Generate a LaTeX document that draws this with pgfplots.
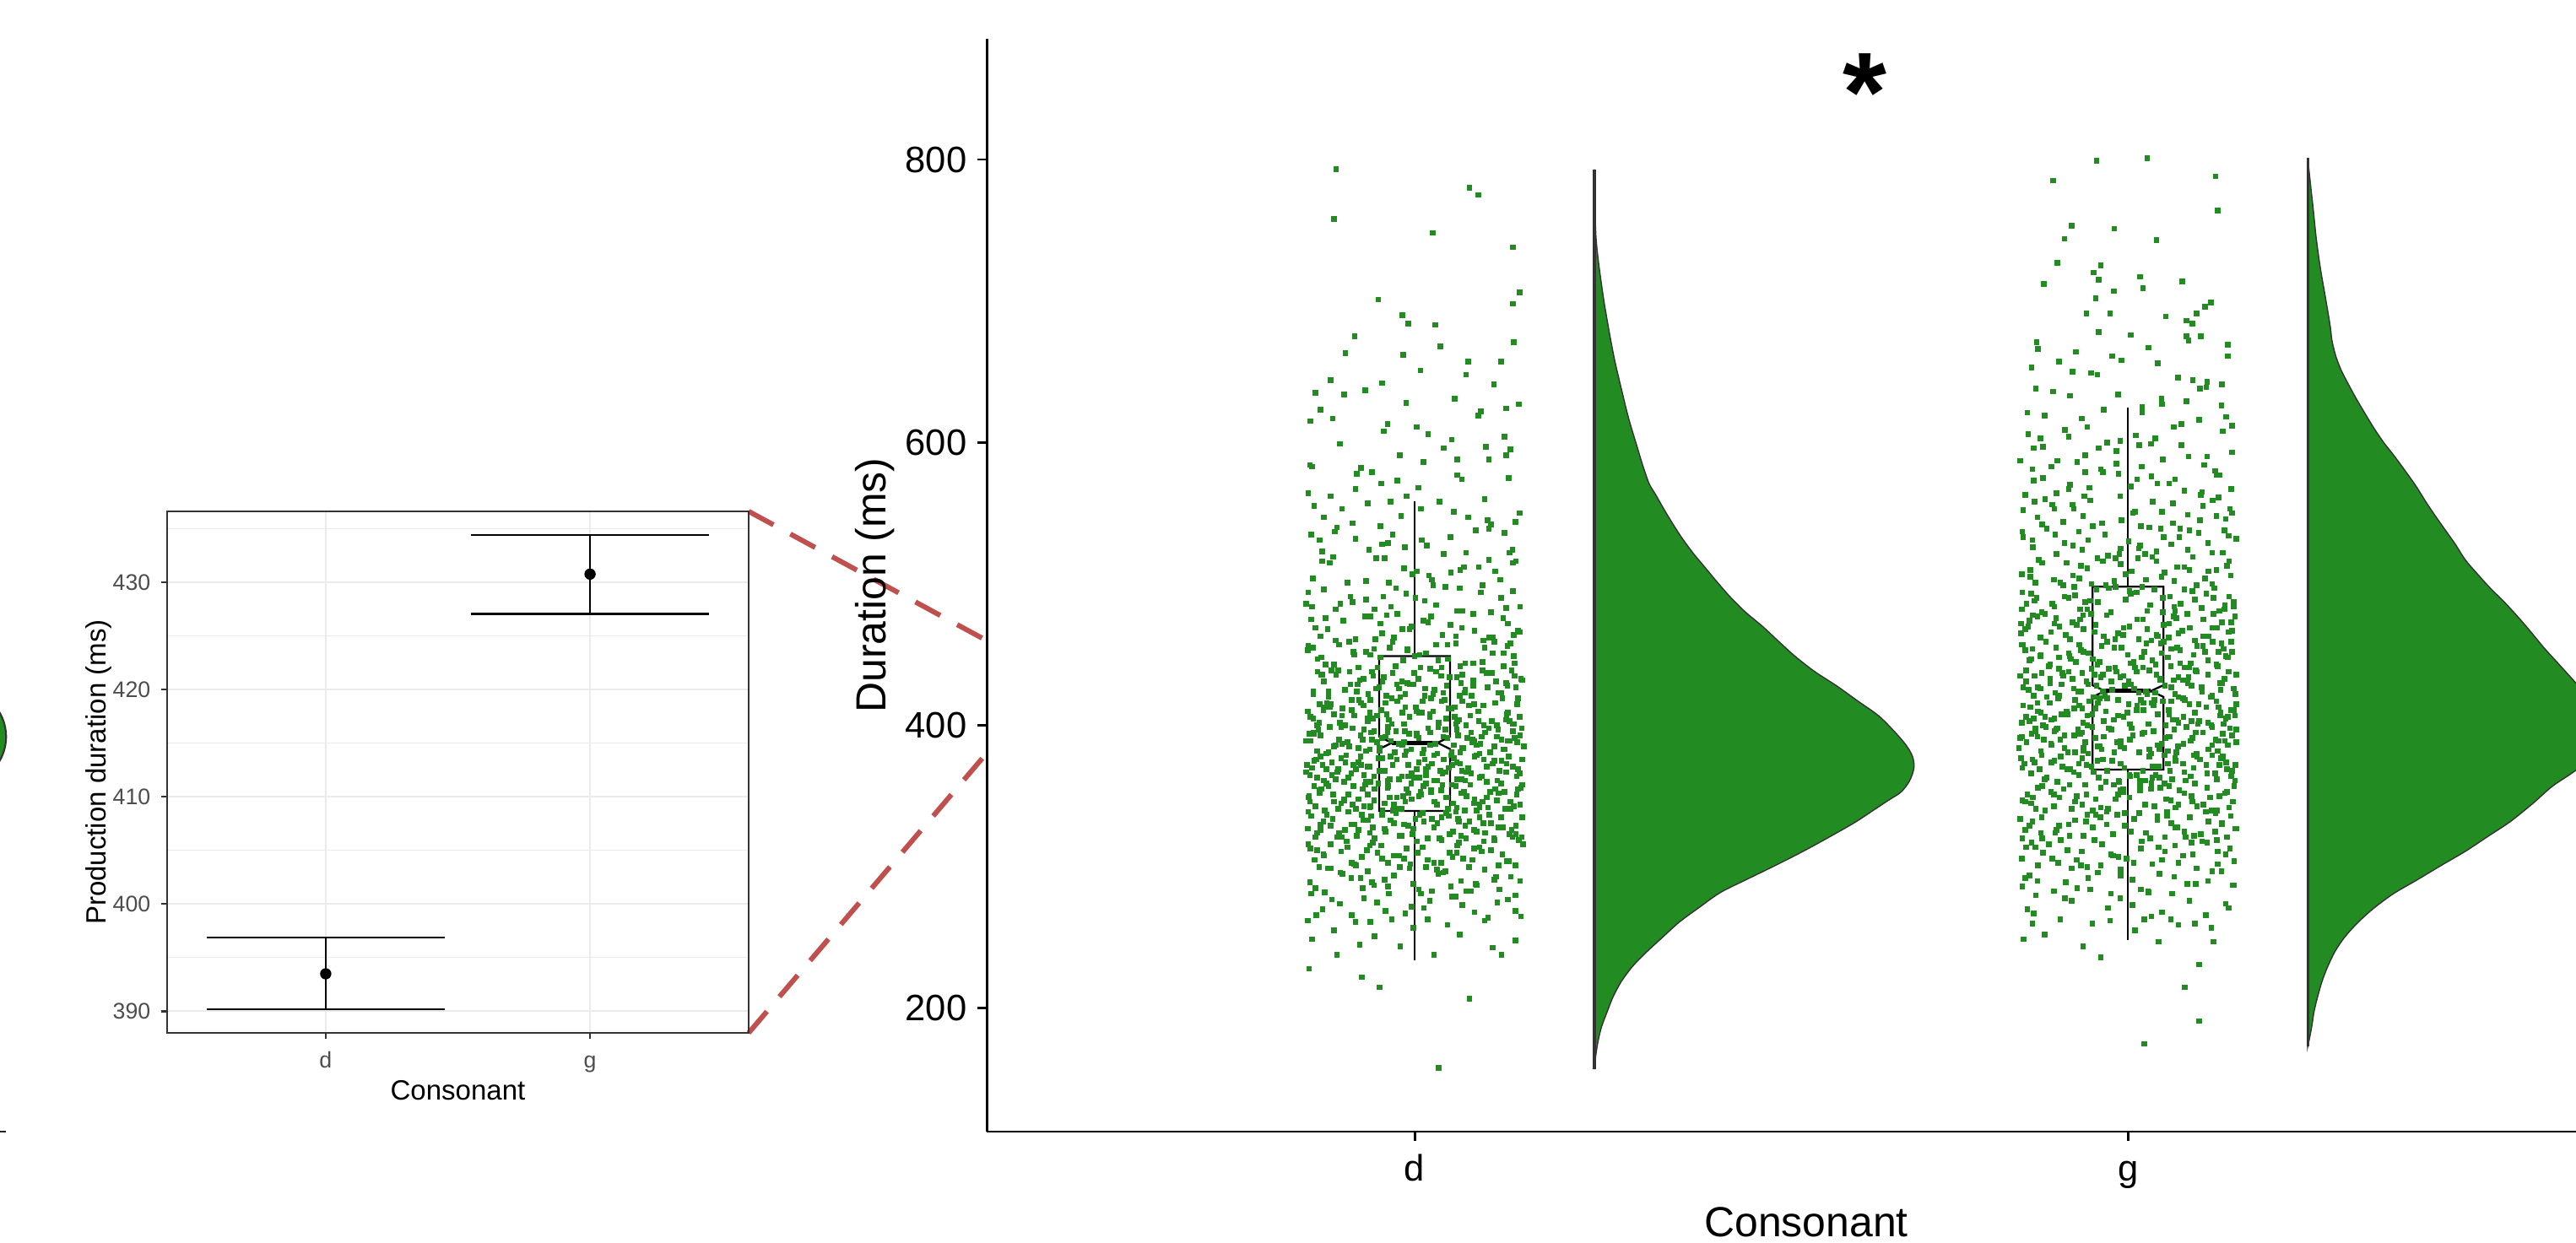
\documentclass[border=0pt]{standalone}
\usepackage{pgfplots}
\pgfplotsset{compat=1.18}
\usepackage{pgfplotstable}
\usepackage{fontspec}
\setmainfont{Liberation Sans}
\definecolor{fg}{HTML}{228B22}
\definecolor{dashred}{HTML}{C0504D}
\definecolor{gridgray}{HTML}{EBEBEB}
\definecolor{g30}{HTML}{4D4D4D}
\definecolor{g20}{HTML}{333333}

\pgfplotstableread{
x y
0.852 228
0.926 222
0.951 215
1.077 207
1.034 158
1.122 238
0.891 238
1.027 238
1.141 248
0.856 249
0.980 244
0.923 245
1.063 252
0.998 257
1.109 243
0.887 255
1.046 259
0.944 251
0.850 262
1.013 271
0.912 266
1.131 277
0.968 263
1.084 268
0.895 274
1.052 279
0.938 261
1.149 265
0.871 270
1.021 276
0.987 267
1.098 262
0.929 278
1.067 273
0.959 269
1.116 275
1.119 284
0.958 291
1.043 297
0.874 282
1.086 288
0.993 299
0.927 285
1.135 293
1.009 281
0.896 296
1.065 290
0.943 287
1.098 298
0.853 289
1.024 283
0.971 294
1.051 286
0.911 292
1.141 280
0.882 299
1.079 283
0.998 288
0.934 297
1.112 291
0.861 285
1.033 295
0.964 281
0.854 313
0.985 306
1.097 318
0.918 301
1.049 310
0.941 317
1.132 304
0.873 308
1.011 314
1.076 300
0.897 311
1.152 316
0.963 303
1.038 319
0.926 307
1.107 312
0.979 300
1.060 315
0.860 305
1.123 309
0.905 318
0.994 302
1.083 313
0.948 310
1.018 305
1.141 301
0.882 316
1.053 307
0.933 312
1.112 319
0.971 308
1.027 303
0.866 300
1.091 314
0.953 315
1.004 310
1.068 306
0.912 303
1.151 335
1.027 328
0.898 321
1.077 332
0.954 337
0.863 324
1.111 320
0.985 330
1.044 338
0.921 326
1.133 323
1.001 334
0.882 329
1.065 322
0.939 336
1.096 331
0.850 327
1.018 320
0.966 333
1.054 325
0.907 339
1.124 328
0.979 322
1.038 335
0.872 332
1.083 326
0.944 320
1.007 337
0.915 330
1.142 323
0.991 329
1.061 334
0.891 321
1.105 337
0.959 325
1.032 331
0.855 336
1.072 320
0.928 333
1.118 328
0.974 338
1.049 323
0.902 326
1.013 332
0.937 324
1.091 335
0.868 330
1.137 321
0.998 327
1.058 339
0.919 322
0.885 334
0.853 346
0.977 341
1.106 353
0.931 358
1.044 349
1.139 343
0.886 351
1.012 357
0.958 345
1.087 340
0.869 355
0.996 348
1.121 359
0.937 342
1.065 352
0.901 347
1.149 356
0.984 350
1.031 344
0.949 359
1.095 346
0.874 340
1.023 354
0.965 349
1.127 341
0.914 357
1.054 345
0.991 352
1.078 358
0.861 343
1.006 350
0.943 347
1.113 355
0.893 341
1.039 358
0.971 344
1.143 351
0.921 348
1.069 353
0.879 357
1.028 346
0.955 340
1.101 349
0.989 355
1.059 342
0.907 351
1.134 346
0.866 354
1.016 359
0.938 343
1.084 348
1.118 352
0.927 355
1.047 341
0.963 357
0.897 345
1.091 344
0.851 349
1.008 353
1.151 358
0.982 341
1.073 350
1.143 364
1.019 371
0.897 377
1.066 362
0.951 368
0.859 375
1.116 361
0.986 379
1.039 366
0.914 372
1.132 378
1.007 363
0.876 369
1.059 374
0.938 360
1.097 376
0.853 365
1.024 373
0.965 362
1.048 370
0.904 379
1.128 367
0.975 376
1.032 361
0.871 372
1.084 378
0.943 364
1.003 369
0.921 374
1.138 371
0.996 366
1.055 377
0.889 362
1.109 373
0.958 368
1.027 379
0.863 363
1.075 370
0.929 365
1.122 375
0.969 372
1.043 367
0.901 360
1.014 376
0.934 371
1.091 363
0.868 378
1.145 369
0.982 364
1.064 373
0.911 366
0.884 374
1.071 361
0.949 377
1.036 368
1.101 371
0.907 363
1.151 376
0.991 372
0.848 367
1.016 365
0.924 378
1.079 366
0.962 361
1.053 372
0.893 369
0.859 394
0.978 387
1.104 398
0.932 382
1.046 391
1.138 396
0.887 385
1.011 380
0.959 392
1.083 389
0.865 397
0.995 383
1.122 390
0.939 395
1.064 381
0.906 388
1.148 393
0.983 386
1.033 399
0.951 384
1.094 392
0.876 380
1.022 395
0.967 389
1.126 383
0.913 398
1.055 386
0.992 394
1.081 388
0.863 382
1.006 391
0.943 396
1.112 385
0.894 390
1.043 397
0.972 381
1.144 388
0.924 393
1.068 384
0.881 399
1.029 387
0.954 391
1.099 395
0.988 382
1.061 393
0.908 385
1.131 389
0.852 394
1.019 398
0.937 383
1.087 386
1.117 397
0.927 390
1.052 381
0.962 395
0.898 387
1.091 380
0.848 389
1.003 393
1.153 385
0.986 396
1.074 391
1.144 415
1.021 408
0.895 402
1.067 417
0.953 411
0.858 405
1.115 400
0.987 413
1.042 418
0.915 407
1.133 403
1.003 410
0.877 416
1.058 401
0.937 409
1.096 414
0.854 406
1.023 419
0.964 404
1.052 412
0.903 400
1.129 408
0.976 417
1.034 402
0.872 411
1.083 415
0.942 405
1.006 409
0.922 418
1.139 401
0.993 406
1.056 413
0.887 408
1.108 403
0.959 416
1.026 410
0.863 400
1.078 407
0.928 414
1.123 419
0.968 401
1.044 405
0.899 412
1.011 417
0.934 403
1.089 410
0.867 415
1.147 406
0.983 409
1.062 404
0.912 418
0.881 413
1.072 400
0.947 407
0.858 424
0.982 431
1.108 437
0.935 422
1.045 428
1.140 435
0.883 439
1.015 426
0.960 421
1.082 432
0.869 436
0.998 429
1.121 423
0.940 438
1.065 430
0.902 425
1.149 433
0.980 420
1.037 435
0.950 427
1.095 439
0.873 431
1.026 422
0.969 437
1.130 428
0.919 424
1.059 434
0.990 430
1.080 421
0.864 438
1.005 433
0.946 426
1.114 431
0.890 436
1.040 423
0.975 429
1.136 439
0.923 432
1.071 425
0.879 420
1.030 438
0.957 434
1.102 427
0.987 422
1.067 436
0.910 429
1.140 444
1.016 451
0.894 457
1.064 442
0.952 448
0.857 455
1.112 459
0.984 446
1.038 441
0.914 452
1.130 456
1.000 449
0.875 443
1.058 458
0.938 450
1.095 445
0.850 453
1.022 440
0.965 455
1.047 447
0.908 459
1.125 451
0.973 442
1.030 457
0.869 448
1.082 444
0.943 454
1.007 450
0.921 441
1.134 458
0.990 453
0.855 475
0.983 468
1.109 462
0.930 477
1.050 471
1.139 464
0.889 460
1.019 473
0.961 478
1.084 467
0.868 463
0.996 470
1.124 476
0.945 461
1.066 469
0.900 474
1.147 466
0.976 479
1.039 464
0.952 472
1.096 460
0.878 468
1.023 477
0.971 462
1.138 495
1.014 488
0.889 482
1.063 497
0.956 491
0.856 484
1.107 480
0.988 493
1.043 498
0.913 487
1.128 483
1.001 490
0.873 496
1.059 481
0.932 489
1.093 494
0.848 486
1.026 499
0.967 484
0.857 504
0.985 511
1.104 517
0.932 502
1.051 508
1.138 515
0.886 519
1.020 506
0.964 501
1.090 512
0.870 516
1.003 509
1.120 503
0.946 518
1.064 510
1.137 524
1.010 531
0.888 537
1.072 522
0.954 528
0.855 535
1.104 539
0.986 526
1.041 521
0.917 532
1.126 536
0.963 529
0.870 523
0.859 555
0.981 548
1.107 542
0.934 557
1.055 551
1.141 544
0.891 540
1.009 553
0.966 558
1.075 547
0.913 543
1.132 575
1.005 568
0.882 562
1.060 577
0.953 571
0.851 564
1.098 560
0.976 573
0.919 578
0.853 584
0.979 591
1.100 597
0.925 582
1.060 588
1.134 595
0.895 599
1.012 586
1.126 604
1.003 611
0.885 617
1.052 602
0.957 608
0.854 615
1.089 619
0.861 635
0.988 628
1.093 622
0.931 637
1.056 631
1.128 624
0.882 644
1.008 651
1.121 657
0.954 642
1.072 648
0.903 663
1.036 668
1.139 671
0.890 793
1.077 780
1.089 775
0.887 758
1.025 748
1.138 738
1.147 706
0.949 701
1.138 698
0.983 690
0.991 684
1.029 683
0.916 675
}\dpts

\pgfplotstableread{
x y
1.103 264
0.884 277
0.996 272
1.141 269
0.917 261
1.057 279
0.862 266
1.018 263
0.947 275
1.072 283
0.899 295
1.148 290
0.963 286
1.031 298
0.855 281
1.114 293
0.940 289
1.006 284
0.878 299
1.087 287
0.924 292
1.040 296
0.915 302
1.062 317
0.872 309
1.129 304
0.989 313
1.016 300
0.851 316
1.094 311
0.954 306
1.146 319
0.906 314
1.037 303
0.978 308
1.118 301
0.863 312
1.003 318
1.081 305
0.937 315
1.059 310
0.861 321
1.011 338
1.136 326
0.935 333
1.071 329
0.894 324
1.048 336
0.982 322
1.107 331
0.851 339
0.958 327
1.024 334
1.150 321
0.912 330
1.087 325
0.877 337
0.997 323
1.062 332
0.941 328
1.121 335
0.868 326
1.035 320
0.926 337
1.099 324
0.971 331
1.142 329
1.091 342
0.859 357
0.975 349
1.126 353
0.918 341
1.052 358
0.887 346
1.009 351
1.148 344
0.944 355
1.070 340
0.867 352
0.995 359
1.115 347
0.929 343
1.037 354
0.852 350
1.083 345
0.962 356
1.134 341
0.901 348
1.023 353
0.876 359
1.103 342
0.987 346
1.058 357
0.934 351
1.145 355
0.913 344
1.046 349
0.970 340
0.873 361
1.041 376
1.119 368
0.925 372
0.991 364
1.087 379
0.856 370
1.060 362
0.949 377
1.147 366
0.903 374
1.016 369
1.101 360
0.966 378
0.884 365
1.129 373
1.028 361
0.937 371
1.073 367
0.862 376
0.999 363
1.112 375
0.918 369
1.051 379
0.978 362
1.138 371
0.892 367
1.006 374
1.094 364
0.955 377
0.849 372
1.066 368
0.932 360
1.106 381
0.868 393
0.985 388
1.059 397
0.921 384
1.140 391
0.897 399
1.022 386
0.951 382
1.079 395
0.854 389
1.124 383
0.974 396
1.040 392
0.909 385
1.150 398
0.940 390
1.092 387
0.879 381
1.003 394
1.067 384
0.963 399
1.115 392
0.889 386
1.032 380
0.929 397
1.133 389
0.858 395
1.013 383
1.081 390
0.947 388
0.866 402
1.038 417
1.131 409
0.934 405
1.002 413
1.097 400
0.882 415
0.961 408
1.060 403
1.145 419
0.912 411
1.021 406
1.113 416
0.850 410
0.985 401
1.076 414
0.938 418
1.128 404
0.898 407
1.048 412
0.968 419
1.090 403
0.874 413
1.010 409
1.138 401
0.925 416
1.056 406
1.117 423
0.871 436
0.993 429
1.063 421
0.928 433
1.142 427
0.893 439
1.028 425
0.955 431
1.101 437
0.858 422
1.049 434
0.978 426
1.128 430
0.909 438
1.014 421
1.082 428
0.942 435
0.879 424
1.151 432
0.999 437
1.070 423
0.920 429
0.887 443
1.046 457
1.139 449
0.932 452
1.008 441
1.098 455
0.864 447
0.969 459
1.071 444
0.915 450
1.125 442
0.990 454
0.851 456
1.033 446
0.948 441
1.109 451
1.058 463
0.875 476
0.993 468
1.131 472
0.917 461
1.082 479
0.954 465
1.012 474
0.861 469
1.104 462
0.938 477
1.145 467
0.896 486
1.067 481
0.974 497
1.121 490
0.851 494
1.030 485
0.944 482
1.095 499
0.910 491
1.148 484
1.024 503
0.881 515
1.113 509
0.958 518
1.069 512
0.906 501
0.997 507
1.142 516
0.936 524
1.086 538
0.867 531
1.017 527
1.133 522
0.969 535
1.050 533
1.102 545
0.898 553
1.035 558
0.952 541
1.147 550
0.873 547
0.917 567
1.066 574
0.856 583
1.128 591
0.989 562
1.041 596
0.940 579
1.104 588
1.019 606
0.868 623
1.111 641
0.962 613
1.075 657
0.901 634
1.146 627
0.984 662
}\dptsb

\pgfplotstableread{
x y
2.023 175
2.100 191
2.080 215
2.100 231
1.962 236
2.120 247
2.043 247
2.117 257
2.010 255
1.883 252
1.937 244
2.071 259
1.854 249
2.094 260
1.950 260
1.905 263
1.866 260
2.060 263
2.023 263
1.859 270
2.137 274
1.989 278
2.048 268
1.921 276
2.109 266
1.972 271
1.852 286
2.065 293
1.976 281
2.131 297
1.913 289
2.018 284
2.096 299
1.944 292
1.871 280
2.044 295
2.149 287
1.990 298
1.896 283
2.112 290
1.958 296
2.029 282
1.862 294
2.083 288
1.929 285
2.006 291
2.143 313
1.928 305
2.019 318
1.874 301
2.091 309
1.964 316
1.902 303
2.052 311
2.125 319
1.987 307
1.857 314
2.034 302
2.111 317
1.943 300
1.881 310
2.066 315
1.998 306
1.915 312
2.149 304
1.953 319
2.077 308
2.008 303
1.865 317
2.126 311
1.934 301
2.043 314
1.976 309
1.894 306
1.866 332
2.079 325
1.985 337
2.139 321
1.917 330
2.041 336
2.102 323
1.951 328
1.880 320
2.009 334
2.152 327
1.970 339
1.898 324
2.061 331
2.123 338
1.938 322
1.996 329
2.087 335
1.856 326
2.052 321
1.926 333
2.016 338
2.132 330
1.878 324
2.069 328
1.961 335
2.031 320
2.113 332
1.943 337
1.903 329
2.093 322
1.849 334
2.004 325
2.144 336
1.979 323
2.055 339
2.139 353
1.926 346
2.017 358
1.871 341
2.089 350
1.962 356
1.896 343
2.054 348
2.117 340
1.989 354
1.852 347
2.033 359
2.106 344
1.942 351
1.880 357
2.067 342
2.002 349
1.910 355
2.147 346
1.951 340
2.079 352
1.980 358
1.864 345
2.128 350
1.936 344
2.045 356
1.972 341
1.892 353
2.060 347
2.094 359
1.904 349
2.142 342
1.993 355
1.859 351
2.024 344
1.955 348
2.111 356
1.884 340
2.072 354
1.918 358
2.037 343
1.986 351
1.864 366
2.077 373
1.987 361
2.133 378
1.915 369
2.034 363
2.101 376
1.949 371
1.879 379
2.012 365
2.151 372
1.969 360
1.897 375
2.059 368
2.125 362
1.936 377
1.995 370
2.088 364
1.855 373
2.051 379
1.924 367
2.017 361
2.138 374
1.876 369
2.067 375
1.959 363
2.030 378
2.111 366
1.942 372
1.901 360
2.092 370
1.850 377
2.003 364
2.146 368
1.978 375
2.043 371
1.886 363
2.118 379
1.931 365
2.081 361
1.965 376
2.021 368
2.128 372
1.869 374
2.062 362
1.952 367
2.097 378
1.908 371
2.039 365
1.990 373
2.140 386
1.925 393
2.016 381
1.870 398
2.088 389
1.963 383
1.897 396
2.053 391
2.118 399
1.990 385
1.851 392
2.032 380
2.105 395
1.940 388
1.878 382
2.065 397
2.003 390
1.911 384
2.146 393
1.950 399
2.078 387
1.981 381
1.865 394
2.127 389
1.935 395
2.044 383
1.973 398
1.893 386
2.059 392
2.096 380
1.905 390
2.152 397
1.995 384
1.858 388
2.023 395
1.954 391
2.113 383
1.885 399
2.070 385
1.916 381
2.036 396
1.985 388
1.873 392
2.133 394
1.937 382
2.047 387
1.901 398
2.090 391
1.960 385
2.007 393
1.847 384
2.123 390
1.930 397
2.056 382
1.863 413
2.078 406
1.986 418
2.134 401
1.914 410
2.033 416
2.100 403
1.950 408
1.881 400
2.013 414
2.150 407
1.971 419
1.893 404
2.057 411
2.124 417
1.937 402
1.999 409
2.086 415
1.857 406
2.053 400
1.925 412
2.018 418
2.137 405
1.874 410
2.068 404
1.958 416
2.029 401
2.110 413
1.943 407
1.902 419
2.094 409
1.851 402
2.001 415
2.145 411
1.980 404
2.042 408
1.890 416
2.117 400
1.932 414
2.080 418
1.966 403
2.022 411
2.129 407
1.868 405
2.061 417
1.954 412
2.098 401
1.907 408
2.036 414
1.994 406
2.152 415
1.878 409
2.071 402
1.946 417
2.135 433
1.924 426
2.012 438
1.868 421
2.084 430
1.965 436
1.898 423
2.052 428
2.116 420
1.989 434
1.853 427
2.030 439
2.104 424
1.942 431
1.879 437
2.066 422
2.004 429
1.909 435
2.148 426
1.952 420
2.077 432
1.984 438
1.861 425
2.129 430
1.934 424
2.040 436
1.968 421
1.891 433
2.061 427
2.095 439
1.907 429
2.151 422
1.994 435
1.857 431
2.025 424
1.956 428
2.112 436
1.886 420
2.071 434
1.917 438
2.038 423
1.977 431
1.874 427
2.130 425
1.936 437
2.045 432
1.903 421
2.089 428
1.962 434
2.009 426
1.849 435
1.862 446
2.073 453
1.982 441
2.131 458
1.918 449
2.039 443
2.105 456
1.945 451
1.885 459
2.008 445
2.146 452
1.973 440
1.899 455
2.056 448
2.126 442
1.932 457
2.000 450
2.088 444
1.856 453
2.050 459
1.920 447
2.021 441
2.134 454
1.877 449
2.069 455
1.957 443
2.026 458
2.112 446
1.938 452
1.903 440
2.092 450
1.853 457
2.004 444
2.140 448
1.981 455
2.047 451
1.891 443
2.119 459
1.927 445
2.079 441
1.963 456
2.019 448
2.127 452
1.866 454
2.060 442
1.951 447
2.141 466
1.922 473
2.015 461
1.867 478
2.087 469
1.966 463
1.899 476
2.050 471
2.120 479
1.986 465
1.850 472
2.033 460
2.106 475
1.938 468
1.877 462
2.064 477
2.002 470
1.913 464
2.145 473
1.948 479
2.076 467
1.982 461
1.862 474
2.125 469
1.933 475
2.042 463
1.970 478
1.892 466
2.058 472
2.094 460
1.904 470
2.150 477
1.993 464
1.856 468
2.021 475
1.955 471
2.113 463
1.884 479
2.071 465
1.918 461
1.864 493
2.074 486
1.983 498
2.128 481
1.917 490
2.037 496
2.103 483
1.947 488
1.879 480
2.012 494
2.148 487
1.969 499
1.897 484
2.059 491
2.121 497
1.933 482
1.997 489
2.090 495
1.858 486
2.049 480
1.926 492
2.020 498
2.136 485
1.872 490
2.065 484
1.956 496
2.027 481
2.110 493
1.940 487
1.909 499
2.094 489
1.851 482
2.002 495
2.142 491
2.139 513
1.923 506
2.014 518
1.870 501
2.086 510
1.965 516
1.896 503
2.051 508
2.118 500
1.990 514
1.851 507
2.034 519
2.108 504
1.943 511
1.875 517
2.065 502
2.005 509
1.914 515
2.144 506
1.949 500
2.079 512
1.983 518
1.863 505
2.124 510
1.932 504
2.040 516
1.867 526
2.072 533
1.988 521
2.135 538
1.911 529
2.040 523
2.099 536
1.944 531
1.886 539
2.015 525
2.152 532
1.972 520
1.898 535
2.061 528
2.118 522
1.931 537
2.001 530
2.084 524
1.853 533
2.046 539
1.923 527
2.024 521
2.141 534
2.137 546
1.924 553
2.018 541
1.869 558
2.084 549
1.964 543
1.894 556
2.048 551
2.119 559
1.991 545
1.853 552
2.030 540
2.105 555
1.937 548
1.880 542
2.063 557
2.007 550
1.909 544
2.143 553
1.947 559
1.868 573
2.079 566
1.987 578
2.127 561
1.919 570
2.033 576
2.102 563
1.946 568
1.884 560
2.013 574
2.145 567
1.965 579
1.900 564
2.058 571
2.124 577
1.939 562
2.004 569
2.146 593
1.929 586
2.016 598
1.866 581
2.085 590
1.959 596
1.893 583
2.049 588
2.122 580
1.984 594
1.849 587
2.032 599
2.107 584
1.940 591
1.881 597
1.860 606
2.075 613
1.989 601
2.138 618
1.912 609
2.038 603
2.100 616
1.943 611
1.883 619
2.011 605
2.146 612
1.971 600
2.131 626
1.919 633
2.020 621
1.871 638
2.082 629
1.966 623
1.895 636
2.047 631
2.110 639
1.865 653
2.070 646
1.991 658
2.132 641
1.922 650
2.042 656
2.111 643
1.957 648
1.874 666
2.085 672
1.978 661
2.140 669
1.927 664
1.956 799
2.027 801
1.895 785
2.123 788
2.126 764
1.921 753
1.981 751
1.911 744
2.040 743
1.901 727
1.962 725
1.952 720
1.959 715
2.017 717
2.076 714
1.882 712
1.980 707
2.021 709
1.955 702
2.116 699
2.108 696
1.942 691
1.975 691
2.053 689
2.082 686
2.096 691
2.090 684
1.959 678
2.004 676
2.082 675
2.102 675
}\gpts

\pgfplotstableread{
x y
2.033 265
1.912 278
2.141 271
1.868 267
2.086 276
1.975 262
2.006 273
1.947 284
2.118 297
1.873 290
2.062 281
1.990 294
2.147 287
1.921 299
2.028 283
1.856 292
2.095 288
2.071 303
1.889 316
2.137 309
1.962 301
2.018 313
1.851 306
2.104 318
1.935 311
2.048 305
1.906 319
2.126 302
1.979 308
1.870 314
2.089 317
1.918 322
2.055 336
1.862 329
2.122 325
1.996 338
2.081 321
1.941 332
2.150 327
1.879 335
2.025 324
1.970 330
2.109 339
1.900 326
2.041 333
1.852 320
2.132 331
1.955 337
2.066 328
2.097 343
1.874 356
1.983 348
2.136 352
1.921 341
2.051 359
1.856 346
2.017 354
2.115 349
1.940 358
2.071 344
1.896 351
2.149 357
1.962 342
2.032 355
1.867 349
2.090 346
1.993 353
2.125 340
1.928 350
2.058 357
1.883 362
2.066 377
2.139 369
1.931 373
2.002 365
2.093 379
1.852 370
2.044 363
1.957 375
2.122 366
1.906 378
2.024 361
2.110 372
1.971 368
1.866 376
2.145 364
2.035 371
1.944 380
2.079 367
1.893 374
1.988 360
2.130 377
1.919 369
2.056 373
2.150 361
2.113 383
1.871 396
1.990 389
2.057 392
1.926 381
2.143 398
1.892 387
2.020 394
1.958 385
2.082 399
1.849 391
2.126 382
1.977 397
2.041 386
1.911 393
2.152 388
1.938 384
2.095 395
1.882 390
2.005 398
2.068 381
1.966 392
2.118 386
1.899 397
2.030 383
1.933 394
2.136 389
1.862 403
2.037 418
2.130 409
1.936 412
2.003 401
2.099 415
1.884 406
1.960 419
2.063 404
2.148 411
1.915 408
2.022 416
2.112 402
1.853 414
1.986 407
2.077 419
1.943 400
2.127 413
1.897 405
2.049 417
1.969 410
2.089 403
1.873 416
2.012 411
2.140 406
1.926 418
2.058 408
2.118 421
1.869 435
1.996 428
2.064 432
1.930 424
2.141 438
1.891 430
2.027 422
1.953 436
2.103 427
1.857 439
2.046 433
1.978 425
2.132 430
1.908 437
2.015 423
2.085 434
1.944 429
1.877 426
2.152 436
2.001 431
2.071 420
1.922 433
2.096 438
1.965 424
1.889 442
2.046 458
2.137 449
1.934 453
2.010 441
2.097 456
1.864 447
1.971 459
2.073 444
1.917 451
2.124 443
1.991 455
1.851 457
2.034 446
1.949 440
2.108 452
1.878 450
2.061 454
1.960 445
2.145 459
1.903 448
2.023 452
2.086 441
2.057 462
1.873 477
1.994 469
2.132 473
1.919 461
2.083 479
1.953 466
2.013 475
1.860 470
2.105 463
1.937 478
2.146 467
1.897 472
2.040 464
1.976 480
2.118 469
1.850 465
2.068 476
1.928 471
2.027 468
1.894 486
2.066 481
1.973 497
2.120 490
1.852 494
2.031 485
1.943 482
2.096 499
1.911 491
2.148 484
2.004 493
1.869 488
2.079 496
1.958 487
2.135 482
1.925 498
2.049 490
2.025 503
1.880 515
2.113 509
1.957 518
2.069 512
1.905 501
1.997 507
2.142 516
1.863 510
2.047 505
1.934 513
2.091 519
1.981 502
1.936 524
2.086 538
1.866 531
2.017 527
2.133 522
1.968 535
2.050 533
1.900 521
2.112 529
1.852 537
1.990 525
2.073 539
2.101 545
1.897 553
2.035 558
1.951 541
2.146 550
1.873 547
2.063 543
1.922 556
2.010 551
2.124 548
1.917 567
2.066 574
1.856 563
2.128 577
1.989 562
2.041 571
1.940 579
2.104 565
1.881 575
2.019 583
1.868 596
2.111 590
1.962 581
2.075 598
1.901 587
2.146 593
1.984 585
1.917 604
2.064 611
1.859 621
2.133 608
1.986 634
2.048 627
1.935 617
2.101 638
1.877 603
2.020 625
2.091 644
1.903 657
2.029 667
1.948 649
2.140 661
1.872 671
}\gptsb

\pgfplotstableread{
x y
1.252 157
1.254 167
1.2572 177
1.262 187
1.2702 198
1.278 208
1.2897 219
1.306 230
1.3254 240
1.347 250
1.371 261
1.398 271
1.429 282
1.469 292
1.5136 303
1.552 313
1.5915 324
1.619 332
1.643 340
1.664 347
1.682 353
1.694 361
1.700 370
1.698 378
1.689 386
1.672 396
1.650 407
1.622 417
1.5915 428
1.561 438
1.533 449
1.509 460
1.4877 470
1.464 480
1.442 491
1.423 502
1.4065 512
1.390 522
1.374 533
1.360 544
1.3481 554
1.338 563
1.3286 571
1.319 585
1.3124 596
1.300 617
1.2897 638
1.280 659
1.2721 680
1.265 701
1.2591 722
1.256 735
1.254 747
1.2526 770
1.252 793
}\dviolin

\pgfplotstableread{
x y
2.252 173
2.255 180
2.2579 188
2.261 198
2.2658 208
2.272 219
2.2796 229
2.290 240
2.3033 250
2.321 260
2.3427 270
2.372 281
2.406 291
2.439 301
2.473 311
2.506 322
2.536 332
2.568 345
2.595 357
2.6295 369
2.646 380
2.655 390
2.658 400
2.654 410
2.644 420
2.6295 429
2.619 435
2.601 445
2.583 455
2.565 466
2.548 476
2.528 487
2.508 497
2.490 507
2.473 517
2.459 528
2.445 538
2.431 548
2.4177 558
2.404 569
2.390 579
2.374 590
2.3585 600
2.345 610
2.3329 620
2.320 631
2.3092 641
2.299 651
2.2914 661
2.286 672
2.2836 682
2.277 702
2.2698 723
2.264 744
2.2599 764
2.256 782
2.252 801
}\gviolin

\begin{document}
\begin{tikzpicture}
\useasboundingbox (0,0) rectangle (30.52,14.72);
\begin{scope}
\clip (0,0) rectangle (30.52,14.72);
\draw[dashred, line width=1.7pt, dash pattern=on 9.5pt off 6.5pt] (8.87,8.66) -- (11.65,7.15);
\draw[dashred, line width=1.7pt, dash pattern=on 9.5pt off 6.5pt] (8.87,2.48) -- (11.66,5.76);
\draw[black!85, line width=0.85pt] (0,1.31) -- (0.075,1.31);

% ---------------- inset -----------------
\begin{axis}[
  scale only axis, width=6.89cm, height=6.18cm,
  at={(1.98cm,2.48cm)}, anchor=south west,
  xmin=0.4, xmax=2.6, ymin=387.99, ymax=436.61,
  xtick={1,2}, xticklabels={d,g},
  ytick={390,400,410,420,430},
  minor ytick={395,405,415,425,435},
  grid=both,
  major grid style={gridgray, line width=0.55pt},
  minor grid style={gridgray, line width=0.3pt},
  minor tick length=0pt,
  tick align=outside, major tick length=0.07cm,
  xtick pos=left, ytick pos=left,
  tick style={g20, line width=0.6pt},
  axis line style={g20, line width=0.6pt},
  tick label style={font=\fontsize{7.6}{9}\selectfont, text=g30, inner sep=0pt},
  yticklabel style={anchor=east, xshift=-0.12cm},
  xticklabel style={anchor=base, yshift=-0.34cm},
  /pgf/number format/assume math mode=true,
  xlabel={Consonant}, ylabel={Production duration (ms)},
  label style={font=\fontsize{9.4}{11}\selectfont},
  xlabel style={at={(axis description cs:0.5,-0.1288)}, anchor=base},
  ylabel style={at={(axis description cs:-0.1045,0.5)}, anchor=base},
  clip=false,
]
\addplot[only marks, mark=*, mark size=16.3pt, mark options={fill=fg, draw=g20, line width=0.6pt}] coordinates {(-0.392,415.6)};
\addplot[black, line width=0.7pt, no marks] coordinates {(0.55,396.87) (1.45,396.87)};
\addplot[black, line width=0.7pt, no marks] coordinates {(0.55,390.18) (1.45,390.18)};
\addplot[black, line width=0.7pt, no marks] coordinates {(1,390.18) (1,396.87)};
\addplot[black, line width=0.7pt, no marks] coordinates {(1.55,434.41) (2.45,434.41)};
\addplot[black, line width=0.7pt, no marks] coordinates {(1.55,427.04) (2.45,427.04)};
\addplot[black, line width=0.7pt, no marks] coordinates {(2,427.04) (2,434.41)};
\addplot[only marks, mark=*, mark size=1.7pt, black] coordinates {(1,393.5) (2,430.76)};
\end{axis}

% ---------------- main -----------------
\begin{axis}[
  scale only axis, width=19.42cm, height=12.95cm,
  at={(11.69cm,1.31cm)}, anchor=south west,
  xmin=0.4, xmax=2.698, ymin=112.9, ymax=885.3,
  axis x line*=bottom, axis y line*=left,
  axis line style={black, line width=0.85pt},
  xtick={1,2}, xticklabels={d,g},
  ytick={200,400,600,800},
  tick align=outside, major tick length=0.11cm,
  tick style={black, line width=0.85pt},
  tick label style={font=\fontsize{12.4}{14}\selectfont, inner sep=0pt},
  yticklabel style={anchor=east, xshift=-0.12cm},
  xticklabel style={anchor=base, yshift=-0.47cm},
  /pgf/number format/assume math mode=true,
  xlabel={Consonant}, ylabel={Duration (ms)},
  label style={font=\fontsize{14.2}{16}\selectfont},
  xlabel style={at={(axis description cs:0.5,-0.0965)}, anchor=base},
  ylabel style={at={(axis description cs:-0.0613,0.5)}, anchor=base},
]
\addplot[fill=fg, draw=g20, line width=0.4pt, smooth, tension=0.5] table {\dviolin} -- cycle;
\addplot[g20, line width=0.9pt, no marks] coordinates {(1.252,157) (1.252,793)};
\addplot[fill=fg, draw=g20, line width=0.4pt, smooth, tension=0.5] table {\gviolin} -- cycle;
\addplot[g20, line width=0.9pt, no marks] coordinates {(2.252,173) (2.252,801)};

\addplot[only marks, mark=square*, mark size=0.8pt, color=fg, mark options={line width=0pt}] table {\dpts};
\addplot[only marks, mark=square*, mark size=0.8pt, color=fg, mark options={line width=0pt}] table {\dptsb};
\addplot[only marks, mark=square*, mark size=0.8pt, color=fg, mark options={line width=0pt}] table {\gpts};
\addplot[only marks, mark=square*, mark size=0.8pt, color=fg, mark options={line width=0pt}] table {\gptsb};

\addplot[black, line width=0.6pt, no marks] coordinates {(1,449.0) (1,558.5)};
\addplot[black, line width=0.6pt, no marks] coordinates {(1,339.6) (1,234)};
\addplot[fill=white, fill opacity=0.6, draw=black, line width=0.65pt] coordinates {(0.9503,449.0) (1.0497,449.0) (1.0497,392.1) (1.032,387.7) (1.0497,383.3) (1.0497,339.6) (0.9503,339.6) (0.9503,383.3) (0.968,387.7) (0.9503,392.1)} -- cycle;
\addplot[black, line width=1.4pt, no marks] coordinates {(0.968,387.7) (1.032,387.7)};

\addplot[black, line width=0.6pt, no marks] coordinates {(2,498.0) (2,624.7)};
\addplot[black, line width=0.6pt, no marks] coordinates {(2,368.8) (2,248.3)};
\addplot[fill=white, fill opacity=0.6, draw=black, line width=0.65pt] coordinates {(1.9503,498.0) (2.0497,498.0) (2.0497,428.4) (2.032,424.3) (2.0497,420.2) (2.0497,368.8) (1.9503,368.8) (1.9503,420.2) (1.968,424.3) (1.9503,428.4)} -- cycle;
\addplot[black, line width=1.4pt, no marks] coordinates {(1.968,424.3) (2.032,424.3)};

\node[font=\fontsize{38}{40}\selectfont\bfseries, anchor=base, inner sep=0pt] at (axis cs:1.6314,820) {*};
\end{axis}
\end{scope}
\end{tikzpicture}
\end{document}
